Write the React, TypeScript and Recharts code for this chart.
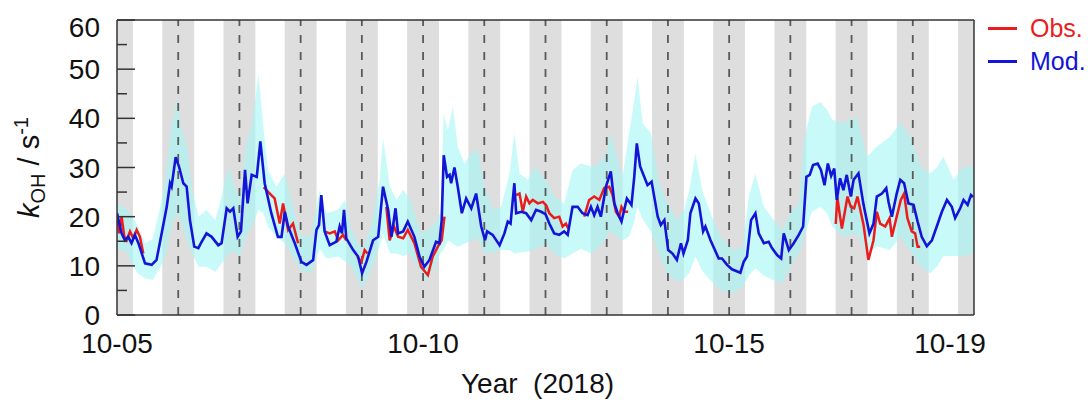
import React from 'react';
import {
  ComposedChart,
  Line,
  Area,
  XAxis,
  YAxis,
  ReferenceArea,
  ReferenceLine,
} from 'recharts';

// time in hours since 2018-10-05 00:00
const modPoints: [number, number][] = [
  [0, 20.7], [1.8, 16.6], [3.1, 15.2], [4.4, 15.9], [5.7, 14.6], [7, 16.3], [8.4, 14.6], [11, 10.5],
  [13.6, 10.2], [15.5, 11.2], [17.5, 16.6], [19.5, 22], [20.8, 26.8], [21.4, 26.1], [23, 32.1], [24.3, 30.2],
  [26, 26.8], [27.3, 26.1], [28.6, 19.3], [30.3, 13.9], [31.9, 13.6], [32.9, 14.6], [35.1, 16.6], [37.1, 15.9],
  [39.7, 14.2], [41, 14.6], [43, 21.7], [44.3, 21], [45.6, 21.7], [47.3, 15.9], [48.6, 17], [50.2, 29.5],
  [51.2, 22.7], [52.8, 28.5], [54.8, 28.1], [56.2, 35.3], [57.9, 26.8], [60.5, 20.7], [63.1, 15.9], [64.5, 15.9],
  [65.8, 21], [67.1, 18], [69.7, 14.6], [72.3, 10.8], [74.3, 10.2], [76.9, 11.2], [78.2, 17.3], [79.2, 18.3],
  [80.1, 24.4], [81.4, 17], [83.4, 14.2], [86, 14.9], [87.3, 18], [88.2, 16.6], [89, 21.4], [89.9, 15.6],
  [92.6, 13.2], [94.5, 11.9], [96.1, 8.5], [97.8, 10.8], [100.4, 15.2], [102.4, 15.9], [104.3, 26.1], [106.3, 21.4],
  [107.6, 15.9], [109.2, 21.7], [110.2, 16.6], [112.2, 17], [114, 19], [116.6, 15.9], [118.6, 11.9], [120.5, 9.8],
  [122.5, 11.2], [125.1, 14.9], [126.4, 14.6], [127.3, 19.3], [128.1, 32.5], [129.4, 28.1], [130.4, 28.5], [131, 26.8],
  [132.3, 30], [133.6, 26.1], [135.2, 20.7], [136.9, 23.7], [138.9, 21.7], [140.8, 24.7], [142.8, 18], [144.3, 15.2],
  [145.1, 17], [147.3, 16.3], [150, 14.2], [151.9, 16.6], [153.2, 19], [154.3, 18.6], [155.8, 26.8], [156.5, 20.7],
  [158.5, 21], [160.4, 20.7], [162.4, 19.3], [164.3, 21.4], [166.3, 21], [168, 20.5], [169.5, 18.6], [171.4, 16.6],
  [173.4, 16.3], [175.3, 17], [176.7, 16.3], [178.6, 22], [180.6, 22], [182.5, 20.7], [184.5, 20.3], [185.8, 22],
  [187.1, 20.3], [188.4, 22], [189.7, 20], [191.7, 26.1], [193.6, 29.2], [195, 22.7], [196.3, 20.7], [197.8, 19],
  [199.9, 23.7], [201.7, 22.4], [202.8, 28.1], [203.8, 34.9], [205.1, 30.2], [206.7, 28.1], [208, 26.4], [209.6, 27.1],
  [212, 20], [213.2, 18.3], [214.6, 19.3], [216.1, 13.2], [217.8, 12.5], [219.5, 11.2], [221.1, 14.6], [222.1, 12.5],
  [223.8, 15.2], [224.8, 20.7], [226.8, 23.7], [228.1, 22.7], [229.8, 17], [230.7, 18], [232.7, 15.2], [235.9, 11.5],
  [237.2, 11.5], [239.2, 10.2], [241.1, 9.3], [244.4, 8.6], [245.7, 10.8], [247, 11.9], [248.6, 19.3], [250.3, 20.7],
  [251.6, 16.6], [253.6, 14.6], [255.5, 14.9], [256.8, 13.6], [258.8, 12.2], [260.4, 11.5], [261.4, 16.6], [263.4, 13.2],
  [265.3, 14.6], [267.3, 16.3], [269, 18], [270.3, 28.1], [271.6, 28.5], [272.9, 30.5], [274.7, 30.8], [276, 29.5],
  [277.4, 26.4], [278.7, 30.8], [280, 28.3], [281.2, 29.8], [282.2, 23.4], [283.5, 27.8], [284.8, 25.4], [286.1, 28.5],
  [287.7, 24.1], [288.8, 27.5], [290.7, 28.8], [292.7, 22.4], [295, 16.6], [296.6, 18.6], [297.9, 24.1], [299.9, 24.7],
  [301.6, 25.8], [302.5, 23], [303.8, 20], [305.7, 24.7], [307.1, 27.5], [308.6, 26.8], [310.3, 22.7], [312.3, 22.4],
  [313.9, 19], [315.5, 15.9], [317.5, 14], [319.5, 15.2], [321.4, 18], [323.4, 21], [325.4, 23.4], [327.3, 22],
  [328.6, 19.7], [330.6, 21.7], [331.9, 23.4], [333.5, 22.4], [334.8, 24.4], [335.6, 24],
];

const obsPoints: [number, number | null][] = [
  [0, 20.5], [0.8, 16.6], [1.8, 20], [2.9, 15.9], [3.8, 15.2], [5.1, 17], [6.4, 15.6], [7.7, 17.3], [9, 15.9], [10.3, 12.5],
  [11, null],
  [57.5, 26], [59.9, 24.7], [61.8, 23.7], [63.8, 18.6], [65.1, 22.7], [67.1, 17.3], [69, 18.6], [71, 14.6],
  [72, null],
  [81.4, 17], [83.4, 16.6], [85.4, 17], [86.7, 15.2], [88.6, 16.3], [89.9, 15.2],
  [91, null],
  [94.2, 11.9], [95.8, 10.8], [97.1, 13.2], [98.2, 12.5],
  [99, null],
  [105.6, 22], [106.9, 15.2], [108.6, 18], [110.2, 15.9], [112.2, 15.6], [114, 17.3], [116.6, 14.6], [119.2, 9.8],
  [121.9, 8.1], [123.8, 11.9], [125.8, 13.9], [127.3, 15.2], [128.4, 20],
  [129, null],
  [156.5, 24.4], [157.8, 24.7], [159.1, 21], [160.4, 24.1], [161.7, 22.7], [163, 23.4], [165, 22.7], [167, 23],
  [168.3, 22.3], [169.5, 20.7], [171.4, 19.7], [173.4, 20], [174.7, 18], [176, 18.6], [176.9, 17.6],
  [178, null],
  [183.2, 20], [185.1, 23.4], [187.1, 24.1], [189.1, 23.4], [191, 25.8], [193, 26.1], [194.3, 24.4], [195.6, 21],
  [196.9, 20], [197.8, 22], [198.9, 21], [200.4, 21],
  [201, null],
  [281.8, 18.5], [282.4, 24], [283.3, 20.7], [284.2, 17.6], [285.5, 21.4], [286.4, 24.1], [287.7, 22], [289, 21.7],
  [290.3, 24.1], [292.7, 18.3], [294.6, 11.2], [296.6, 15.2], [297.9, 21], [299.2, 18.6], [301.2, 18], [302.9, 19.7],
  [303.8, 15.9], [305.7, 20], [307.3, 23.4], [308.6, 24.7], [309.9, 19.7], [311.6, 17], [312.9, 16.6], [313.9, 13.9],
  [314.9, 13.9],
];

// model range: [time, low, high]
const bandPoints: [number, number, number][] = [
  [0, 13.9, 22.7], [4, 12.5, 21.5], [8, 8.5, 18.3], [11, 7.5, 14.6], [14, 7.1, 15.5], [17, 9.8, 22], [19, 12, 27.5],
  [21, 17.3, 37], [23.4, 20.7, 43.7], [25.5, 18.6, 37.6], [27.5, 15, 34], [29.5, 12.5, 25.4], [32, 9.8, 20],
  [35, 9.8, 21.4], [38.5, 8.8, 19.3], [41, 10.5, 24.1], [43.6, 12.5, 30.2], [46.3, 12.8, 26.1], [48.2, 11.9, 23.4],
  [50.5, 16, 34.2], [53, 18, 39], [55.5, 21.4, 49], [57.5, 20.7, 37.6], [59.2, 18, 29.5], [62.5, 15.9, 26.1],
  [65.8, 14.6, 28.8], [69, 11.9, 22], [72.3, 9, 15.9], [76, 8.5, 15.9], [79.5, 13.5, 25.4], [82.1, 11.5, 20.7],
  [86.7, 11.9, 21.4], [89.3, 11, 23.4], [91.9, 9.8, 17.3], [96, 5.4, 13.2], [99.7, 9.2, 18], [103, 14, 27.5],
  [104.3, 16.6, 36], [107, 12.5, 26.1], [109.6, 12.5, 23.4], [112.2, 12, 25.4], [115, 12.5, 23.4], [119.2, 8.5, 16.6],
  [121.2, 6.8, 17], [124.5, 9.8, 18.5], [126.8, 12.5, 20.7], [128.1, 13.2, 41], [129.7, 15.2, 37.6],
  [131.7, 14.5, 42.4], [133.6, 13.9, 34.2], [136.2, 14.5, 30.8], [138.9, 15.2, 32.9], [141.5, 15.6, 33.6],
  [144.1, 12.5, 26.1], [147.3, 12.7, 21.4], [150.6, 13.2, 22], [153.9, 13.2, 28.8], [155.8, 12.5, 37],
  [157.8, 12.7, 28.8], [161.1, 12.9, 27.5], [163.7, 13.2, 30.2], [168, 14.5, 27.5], [171.4, 12.5, 24.1],
  [175.3, 11.5, 22.7], [178.6, 12.5, 29.5], [181.9, 13.5, 30.8], [185.8, 12.5, 30.2], [189.1, 13.9, 30.8],
  [192.3, 16, 33.6], [193.6, 17.3, 37], [195.6, 16, 32.9], [198.2, 15.2, 28.1], [200.8, 15.9, 37], [202.8, 19, 43.7],
  [204.1, 22, 48.4], [206.1, 19.5, 39], [209.3, 17, 37], [212.6, 12.3, 26.8], [215.9, 8.5, 22.7], [219.5, 6.8, 19.3],
  [222.4, 7.5, 21.4], [224.4, 8.5, 25.4], [226.8, 11.9, 32.9], [229.4, 9, 25.4], [232.7, 7, 20.7], [236.6, 5.1, 15.9],
  [241.5, 4.4, 13.2], [245.4, 5.8, 13.9], [247.7, 8, 24.1], [250.3, 9.5, 28.8], [253.6, 8, 22], [257.5, 7, 19.3],
  [260.8, 6.4, 17.3], [264, 9.8, 20.7], [267.3, 12.5, 22.7], [269.5, 16, 36], [272.5, 21, 42.4], [275.8, 22, 43.3],
  [278.4, 20.7, 41.7], [280.4, 18, 39.7], [284.8, 15.9, 39], [290, 16.6, 40.3], [294, 12.5, 32.2], [297.9, 14, 34.2],
  [303.1, 13.2, 36.3], [307.1, 15.9, 39], [311, 13, 36.3], [314.9, 10, 30.2], [318.8, 8.5, 28.8], [321.4, 9.8, 30],
  [324, 12, 32.2], [328, 12, 27.5], [331.9, 12, 30.2], [336, 12.5, 30.2],
];

const xTicks = [0, 120, 240, 336];
const xTickLabels = ['10-05', '10-10', '10-15', '10-19'];
const yTicks = [0, 5, 10, 15, 20, 25, 30, 35, 40, 45, 50, 55, 60];
const midnights = [24, 48, 72, 96, 120, 144, 168, 192, 216, 240, 264, 288, 312];
const nightCenters = [0, 24, 48, 72, 96, 120, 144, 168, 192, 216, 240, 264, 288, 312, 336];
const legendNames = ['Obs.', 'Mod.'];

const FONT = '"Liberation Sans", Arial, Helvetica, sans-serif';
const RED = '#ec1c1c';
const BLUE = '#1414d8';
const AXIS = '#333';
const NIGHT_HALF = 6.25;
const legendColors = [RED, BLUE];

const modData = modPoints.map(([t, v]) => ({ t, v }));
const obsData = obsPoints.map(([t, v]) => ({ t, v }));
const bandData = bandPoints.map(([t, lo, hi]) => ({ t, range: [lo, hi] }));

const LeftTick = (props: any) => {
  const { x, y, payload } = props;
  const v = payload.value;
  const major = v % 10 === 0;
  return (
    <g>
      <line x1={x} x2={x + (major ? 18 : 10)} y1={y} y2={y} stroke={AXIS} strokeWidth={1.5} />
      {major && (
        <text x={x - 17} y={y + (v === 60 ? 17 : 10)} textAnchor="end" fontSize={28} fontFamily={FONT} fill="#111">
          {v}
        </text>
      )}
    </g>
  );
};

const RightTick = (props: any) => {
  const { x, y, payload } = props;
  const major = payload.value % 10 === 0;
  return <line x1={x} x2={x - (major ? 19 : 11)} y1={y} y2={y} stroke={AXIS} strokeWidth={1.5} />;
};

const BottomTick = (props: any) => {
  const { x, y, payload } = props;
  const i = xTicks.indexOf(payload.value);
  const dx = i === xTicks.length - 1 ? -24 : 0;
  return (
    <text x={x + dx} y={y + 38} textAnchor="middle" fontSize={28} fontFamily={FONT} fill="#111">
      {xTickLabels[i]}
    </text>
  );
};

const YLabel = (props: any) => {
  const vb = props.viewBox || { x: 0, y: 20, width: 117, height: 295 };
  const cx = vb.x + 39;
  const cy = vb.y + vb.height / 2;
  return (
    <text
      x={cx}
      y={cy}
      transform={`rotate(-90, ${cx}, ${cy})`}
      textAnchor="middle"
      fontSize={29}
      fontFamily={FONT}
      fill="#111"
    >
      <tspan fontStyle="italic">k</tspan>
      <tspan fontSize={20} dy={6}>OH</tspan>
      <tspan dy={-6}>{'\u00A0/\u00A0s'}</tspan>
      <tspan fontSize={20} dy={-11}>-1</tspan>
    </text>
  );
};

const XLabel = (props: any) => {
  const vb = props.viewBox || { x: 117, y: 315, width: 857, height: 88 };
  return (
    <text x={vb.x + vb.width / 2 - 8} y={vb.y + 78} textAnchor="middle" fontSize={28} fontFamily={FONT} fill="#111">
      {'Year\u00A0 (2018)'}
    </text>
  );
};

const LegendBox = () => (
  <div style={{ position: 'absolute', left: 988, top: 12, fontFamily: FONT }}>
    {legendNames.map((n, i) => (
      <div key={n} style={{ display: 'flex', alignItems: 'center', height: 33 }}>
        <span style={{ display: 'inline-block', width: 29, height: 3, background: legendColors[i], marginRight: 13 }} />
        <span style={{ fontSize: 25, color: legendColors[i], lineHeight: '33px' }}>{n}</span>
      </div>
    ))}
  </div>
);

export default function App() {
  return (
    <div style={{ position: 'absolute', left: 0, top: 0, width: 1088, height: 403, background: '#fff' }}>
      <ComposedChart width={1088} height={403} margin={{ top: 19, right: 113, bottom: 0, left: 0 }}>
        {nightCenters.map((c) => (
          <ReferenceArea
            key={'n' + c}
            x1={Math.max(0, c - NIGHT_HALF)}
            x2={Math.min(336, c + NIGHT_HALF)}
            y1={0}
            y2={60}
            fill="#dedede"
            fillOpacity={1}
            stroke="none"
            ifOverflow="hidden"
            zIndex={-60}
          />
        ))}
        <Area
          data={bandData}
          dataKey="range"
          type="linear"
          stroke="none"
          fill="#a6f7f7"
          fillOpacity={0.62}
          isAnimationActive={false}
          dot={false}
          activeDot={false}
        />
        {midnights.map((m) => (
          <ReferenceLine
            key={'m' + m}
            x={m}
            stroke="#5a5a5a"
            strokeWidth={1.8}
            strokeDasharray="8 9"
            zIndex={150}
          />
        ))}
        <Line
          data={obsData}
          dataKey="v"
          type="linear"
          stroke={RED}
          strokeWidth={2.5}
          dot={false}
          activeDot={false}
          connectNulls={false}
          isAnimationActive={false}
        />
        <Line
          data={modData}
          dataKey="v"
          type="linear"
          stroke={BLUE}
          strokeWidth={2.6}
          dot={false}
          activeDot={false}
          isAnimationActive={false}
        />
        <XAxis
          dataKey="t"
          type="number"
          domain={[0, 336]}
          ticks={xTicks}
          interval={0}
          allowDataOverflow
          height={88}
          tickSize={0}
          tickMargin={0}
          tickLine={false}
          axisLine={{ stroke: AXIS, strokeWidth: 1.5 }}
          tick={<BottomTick />}
          label={<XLabel />}
        />
        <XAxis
          xAxisId="top"
          orientation="top"
          dataKey="t"
          type="number"
          domain={[0, 336]}
          height={1}
          tick={false}
          tickLine={false}
          axisLine={{ stroke: AXIS, strokeWidth: 1.5 }}
        />
        <YAxis
          type="number"
          domain={[0, 60]}
          ticks={yTicks}
          interval={0}
          allowDataOverflow
          width={117}
          tickSize={0}
          tickMargin={0}
          tickLine={false}
          axisLine={{ stroke: AXIS, strokeWidth: 1.5 }}
          tick={<LeftTick />}
          label={<YLabel />}
        />
        <YAxis
          yAxisId="right"
          orientation="right"
          type="number"
          domain={[0, 60]}
          ticks={yTicks}
          interval={0}
          width={1}
          tickSize={0}
          tickMargin={0}
          tickLine={false}
          axisLine={{ stroke: AXIS, strokeWidth: 1.5 }}
          tick={<RightTick />}
        />
      </ComposedChart>
      <LegendBox />
    </div>
  );
}
